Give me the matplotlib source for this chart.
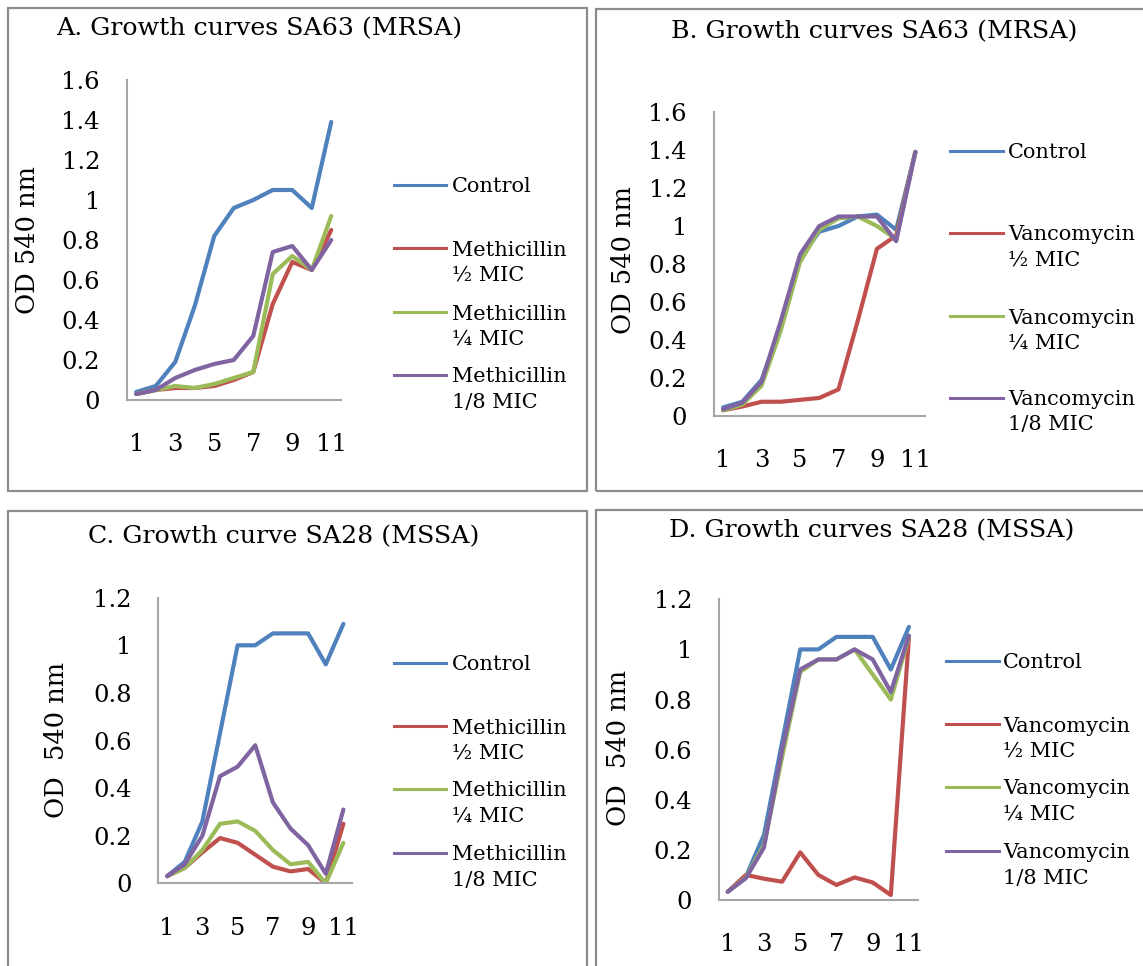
import numpy as np
import matplotlib
matplotlib.use("Agg")
import matplotlib.pyplot as plt
from matplotlib.lines import Line2D
from matplotlib.patches import Rectangle
from matplotlib.ticker import FuncFormatter

plt.rcParams["font.family"] = ["DejaVu Serif"]

W, H = 1143, 966

hours = [1, 2, 3, 4, 5, 6, 7, 8, 9, 10, 11]
hour_ticks = [1, 3, 5, 7, 9, 11]

colors = ["#4F81BD", "#C0504D", "#9BBB59", "#8064A2"]

# A. SA63 (MRSA), methicillin
a_control = [0.04, 0.07, 0.19, 0.47, 0.82, 0.96, 1.00, 1.05, 1.05, 0.96, 1.39]
a_half = [0.03, 0.05, 0.06, 0.06, 0.07, 0.10, 0.14, 0.48, 0.69, 0.65, 0.85]
a_quarter = [0.03, 0.05, 0.07, 0.06, 0.08, 0.11, 0.14, 0.63, 0.72, 0.65, 0.92]
a_eighth = [0.03, 0.05, 0.11, 0.15, 0.18, 0.20, 0.32, 0.74, 0.77, 0.65, 0.80]

# B. SA63 (MRSA), vancomycin
b_control = [0.045, 0.075, 0.19, 0.47, 0.83, 0.97, 1.00, 1.05, 1.06, 0.98, 1.39]
b_half = [0.03, 0.05, 0.075, 0.075, 0.085, 0.095, 0.14, 0.50, 0.88, 0.95, 1.39]
b_quarter = [0.03, 0.06, 0.16, 0.45, 0.81, 0.98, 1.04, 1.05, 1.00, 0.93, 1.39]
b_eighth = [0.035, 0.07, 0.18, 0.50, 0.85, 1.00, 1.05, 1.05, 1.05, 0.92, 1.39]

# C. SA28 (MSSA), methicillin
c_control = [0.03, 0.09, 0.26, 0.63, 1.00, 1.00, 1.05, 1.05, 1.05, 0.92, 1.09]
c_half = [0.03, 0.065, 0.13, 0.19, 0.17, 0.12, 0.07, 0.05, 0.06, 0.00, 0.25]
c_quarter = [0.03, 0.065, 0.14, 0.25, 0.26, 0.22, 0.14, 0.08, 0.09, 0.00, 0.17]
c_eighth = [0.03, 0.08, 0.20, 0.45, 0.49, 0.58, 0.34, 0.23, 0.16, 0.04, 0.31]

# D. SA28 (MSSA), vancomycin
d_control = [0.033, 0.093, 0.26, 0.63, 1.00, 1.00, 1.05, 1.05, 1.05, 0.92, 1.09]
d_half = [0.033, 0.10, 0.085, 0.073, 0.19, 0.10, 0.06, 0.09, 0.07, 0.02, 1.05]
d_quarter = [0.033, 0.09, 0.22, 0.57, 0.91, 0.96, 0.96, 1.00, 0.90, 0.80, 1.05]
d_eighth = [0.033, 0.087, 0.21, 0.60, 0.92, 0.96, 0.96, 1.00, 0.96, 0.83, 1.055]

meth_labels = ["Control", "Methicillin\n\u00bd MIC", "Methicillin\n\u00bc MIC", "Methicillin\n1/8 MIC"]
vanc_labels = ["Control", "Vancomycin\n\u00bd MIC", "Vancomycin\n\u00bc MIC", "Vancomycin\n1/8 MIC"]

fig = plt.figure(figsize=(W / 100, H / 100), dpi=100)


def fx(x):
    return x / W


def fy(y):
    return 1 - y / H


def panel(box, ymax, ystep, series, labels, title, title_xy, ylab, ylab_xy,
          leg_x, leg_y, frame):
    # box = left, right, top (ymax), bottom (0) in pixels
    l, r, t, b = box
    ax = fig.add_axes([fx(l), fy(b), fx(r - l), (b - t) / H])
    for s, c in zip(series, colors):
        ax.plot(hours, s, color=c, lw=3.0, solid_capstyle="round",
                solid_joinstyle="round")
    ax.set_xlim(0.5, 11.5)
    ax.set_ylim(0, ymax)
    ax.set_xticks(hour_ticks)
    ax.set_yticks(np.arange(0, ymax + 1e-9, ystep))
    ax.yaxis.set_major_formatter(FuncFormatter(lambda v, p: "%g" % round(v, 2)))
    ax.tick_params(length=0, labelsize=17.5)
    ax.tick_params(axis="x", pad=24)
    ax.tick_params(axis="y", pad=19)
    for sp in ["top", "right"]:
        ax.spines[sp].set_visible(False)
    for sp in ["left", "bottom"]:
        ax.spines[sp].set_color("#a6a6a6")
        ax.spines[sp].set_linewidth(1.5)
    ax.patch.set_alpha(0)

    fig.text(fx(title_xy[0]), fy(title_xy[1]), title, ha="center", va="center",
             fontsize=18.2)
    fig.text(fx(ylab_xy[0]), fy(ylab_xy[1]), ylab, ha="center", va="center",
             rotation=90, fontsize=18.5)

    x0, x1, xt = leg_x
    for lab, yy, c in zip(labels, leg_y, colors):
        fig.add_artist(Line2D([fx(x0), fx(x1)], [fy(yy), fy(yy)], color=c,
                              lw=2.2, transform=fig.transFigure))
        for k, line in enumerate(lab.split("\n")):
            fig.text(fx(xt), fy(yy + 25 * k), line, ha="left",
                     va="center_baseline", fontsize=15)

    fl, ft, fr, fb = frame
    fig.add_artist(Rectangle((fx(fl), fy(fb)), fx(fr - fl), (fb - ft) / H,
                             fill=False, edgecolor="#8c8c8c", lw=1.6,
                             transform=fig.transFigure))
    return ax


panel((126.5, 341, 80, 400), 1.6, 0.2,
      [a_control, a_half, a_quarter, a_eighth], meth_labels,
      "A. Growth curves SA63 (MRSA)", (259, 29), "OD 540 nm", (28, 240),
      (394, 446, 452), [185, 248, 312, 375], (8, 8, 587, 491))

panel((713.5, 925, 112, 416), 1.6, 0.2,
      [b_control, b_half, b_quarter, b_eighth], vanc_labels,
      "B. Growth curves SA63 (MRSA)", (874, 32), "OD 540 nm", (623.5, 260),
      (950, 1003, 1008), [151, 233, 316, 398], (595.7, 9, 1200, 491))

panel((158.3, 352.2, 597.7, 883.3), 1.2, 0.2,
      [c_control, c_half, c_quarter, c_eighth], meth_labels,
      "C. Growth curve SA28 (MSSA)", (284, 537), "OD  540 nm", (57, 740),
      (394, 446, 452), [663, 726, 789, 853], (8, 511, 587, 1000))

panel((718.7, 918, 599.3, 900), 1.2, 0.2,
      [d_control, d_half, d_quarter, d_eighth], vanc_labels,
      "D. Growth curves SA28 (MSSA)", (872, 531), "OD  540 nm", (618, 748),
      (946, 999, 1003), [661, 724, 787, 851], (595.7, 510, 1200, 1000))

plt.savefig("out.png", dpi=100)
